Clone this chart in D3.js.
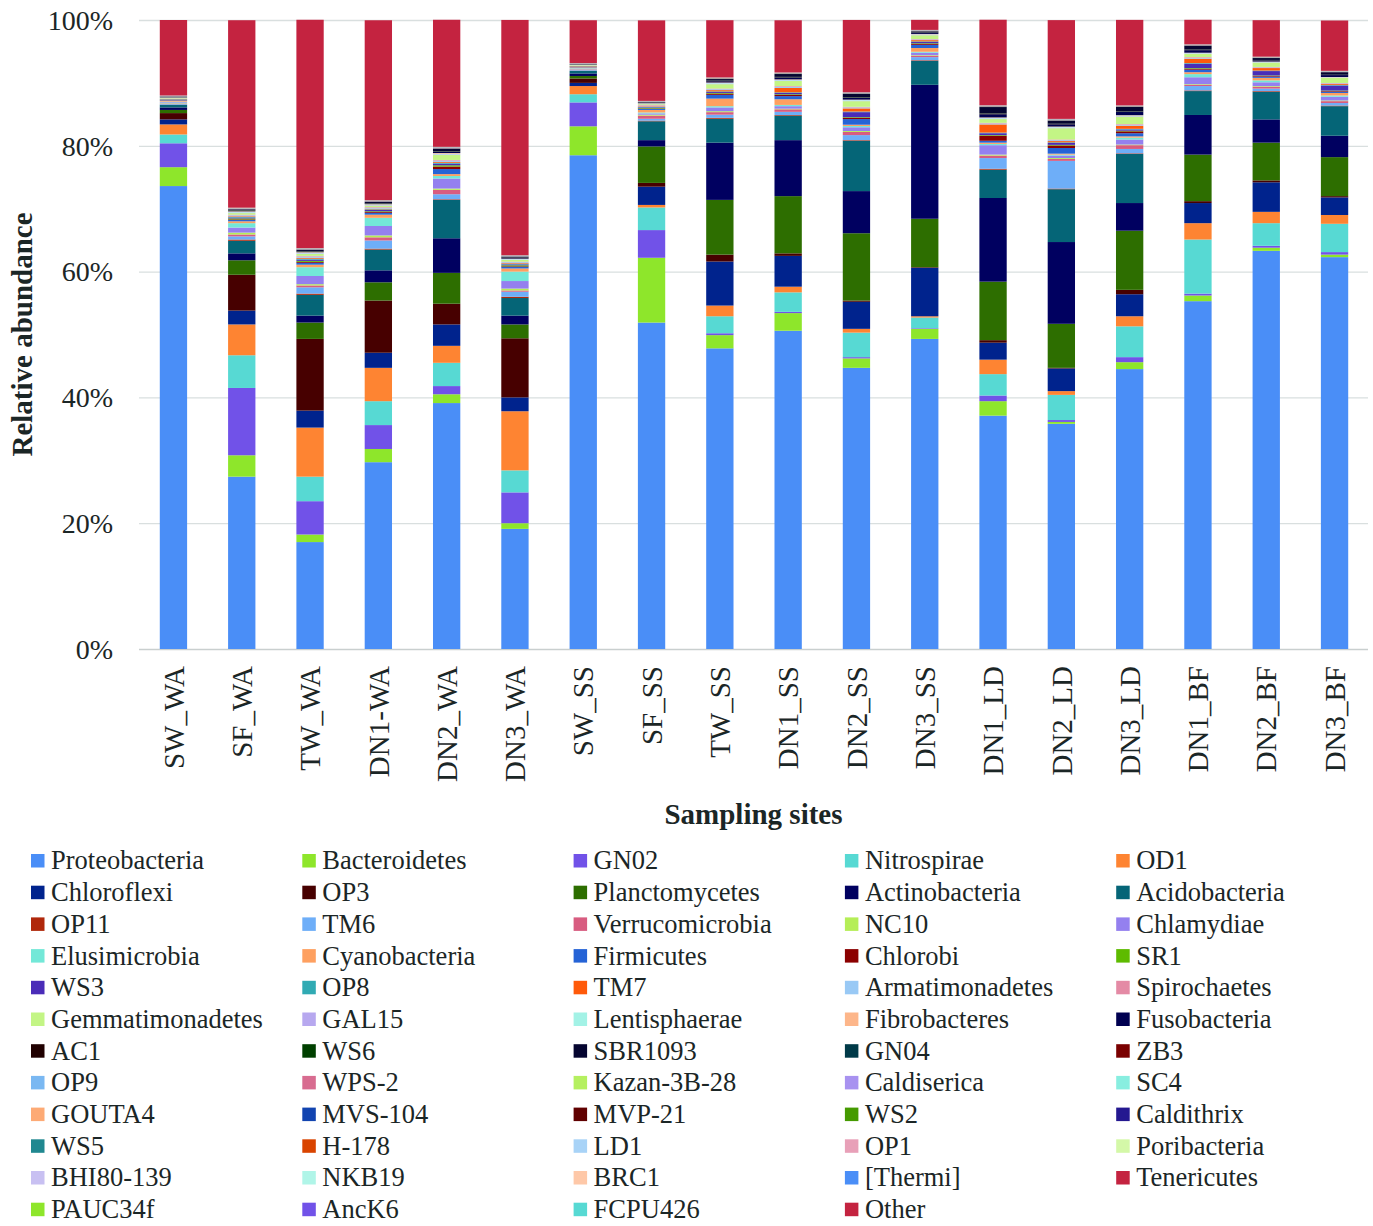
<!DOCTYPE html>
<html><head><meta charset="utf-8">
<script src="https://cdn.jsdelivr.net/npm/d3@7"></script>
<style>body{margin:0;background:#fff}svg{display:block}</style>
</head><body><div id="chart"></div>
<script>
const sites = ["SW_WA","SF_WA","TW_WA","DN1-WA","DN2_WA","DN3_WA","SW_SS","SF_SS","TW_SS","DN1_SS","DN2_SS","DN3_SS","DN1_LD","DN2_LD","DN3_LD","DN1_BF","DN2_BF","DN3_BF"];
const yTicks = [0,20,40,60,80,100];
const yTickLabels = ["0%","20%","40%","60%","80%","100%"];

const seriesNames = ["Proteobacteria","Bacteroidetes","GN02","Nitrospirae","OD1","Chloroflexi","OP3","Planctomycetes","Actinobacteria","Acidobacteria","OP11","TM6","Verrucomicrobia","NC10","Chlamydiae","Elusimicrobia","Cyanobacteria","Firmicutes","Chlorobi","SR1","WS3","OP8","TM7","Armatimonadetes","Spirochaetes","Gemmatimonadetes","GAL15","Lentisphaerae","Fibrobacteres","Fusobacteria","AC1","WS6","SBR1093","GN04","ZB3","OP9","WPS-2","Kazan-3B-28","Caldiserica","SC4","GOUTA4","MVS-104","MVP-21","WS2","Caldithrix","WS5","H-178","LD1","OP1","Poribacteria","BHI80-139","NKB19","BRC1","[Thermi]","Tenericutes","PAUC34f","AncK6","FCPU426","Other"];
const seriesColors = ["#4a8ef7","#8ee62b","#7152e8","#57d9d3","#fe8432","#00238d","#470000","#2d6e00","#000060","#056577","#b0280b","#6eaef8","#d85c80","#b5ee57","#9480ef","#73e8d8","#fea060","#2563d6","#8b0000","#5ebb00","#4a2cb8","#30aab3","#ff5a0a","#99c9f5","#e48aa5","#c3f585","#b7a8ef","#a3f2e6","#fdb68a","#000050","#200000","#004000","#050530","#003a48","#7a0000","#7ab8f2","#d86c90","#b5f060","#a892f0","#88eee0","#fdaa75","#1244b0","#600000","#459a00","#241890","#208890","#d94400","#a8d3f7","#e8a0b8","#d4f8a8","#c8c0f2","#b0f5e8","#fec8a8","#4a8ef7","#c42340","#8ee62b","#7152e8","#57d9d3","#c42340"];

// values in % per site (same order as sites)
const proteobacteria   = [73.6,27.4,17.0,29.7,39.1,19.1,78.5,51.9,47.8,50.6,44.7,49.3,37.1,35.8,44.5,55.3,63.3,62.3];
const bacteroidetes    = [3.0,3.4,1.2,2.1,1.4,0.9,4.6,10.3,2.1,2.8,1.5,1.6,2.3,0.3,1.1,0.9,0.5,0.4];
const gn02             = [3.8,10.7,5.3,3.8,1.3,4.9,3.8,4.4,0.3,0.2,0.2,0.1,0.9,0.3,0.8,0.3,0.3,0.4];
const nitrospirae      = [1.4,5.2,3.9,3.8,3.7,3.5,1.3,3.6,2.7,3.1,3.9,1.7,3.4,4.0,4.9,8.6,3.6,4.5];
const od1              = [1.6,4.9,7.8,5.3,2.7,9.4,1.3,0.4,1.7,0.9,0.6,0.2,2.3,0.6,1.6,2.6,1.8,1.4];
const chloroflexi      = [0.8,2.2,2.7,2.4,3.4,2.2,0.5,2.9,7.0,4.9,4.3,7.7,2.7,3.6,3.5,3.2,4.7,2.8];
const op3              = [1.0,5.7,11.4,8.3,3.3,9.4,0.7,0.6,1.1,0.4,0.2,0.1,0.4,0.1,0.7,0.3,0.3,0.2];
const planctomycetes   = [0.5,2.3,2.6,2.9,4.9,2.2,0.4,5.8,8.7,9.1,10.7,7.7,9.3,7.0,9.4,7.4,6.0,6.2];
const actinobacteria   = [0.4,1.1,1.1,1.9,5.5,1.4,0.4,1.0,9.1,8.9,6.7,21.3,13.3,13.0,4.4,6.3,3.7,3.4];
const acidobacteria    = [0.4,2.0,3.3,3.3,6.1,2.8,0.4,3.0,3.8,3.9,8.0,3.8,4.5,8.4,7.8,3.8,4.4,4.7];
const op11             = [.05,.2,.2,.15,.1,.2,.04,.1,.15,.1,.1,.1,.15,.1,.1,.1,.1,.1];
const tm6              = [.15,.5,1.0,1.3,.8,.8,.1,.3,.5,.5,.8,.5,1.7,4.4,.7,.7,.4,.4];
const verrucomicrobia  = [.05,.3,.3,.5,.7,.2,.08,.5,.4,.4,.5,.2,.4,.3,.6,.2,.3,.3];
const nc10             = [.05,.3,.2,.3,.2,.3,.04,.15,.15,.1,.15,.1,.15,.15,.1,.1,.1,.1];
const chlamydiae       = [.12,.8,1.3,1.5,1.6,1.2,.1,.2,.6,.4,.6,.4,1.5,.4,.8,1.1,.6,.6];
const elusimicrobia    = [.1,.7,1.4,1.3,.4,1.5,.08,.15,.2,.2,.2,.15,.2,.15,.3,.5,.3,.2];
const cyanobacteria    = [.15,.3,.4,.5,.3,.5,.12,.4,1.2,.9,.2,.6,.2,.15,.2,.3,.4,.4];
const firmicutes       = [.08,.2,.3,.3,.8,.25,.06,.15,.6,.5,.9,.5,.3,.9,.5,.4,.2,.2];
const chlorobi         = [.04,.1,.15,.15,.4,.1,.03,.08,.2,.2,.2,.15,.8,.4,.3,.15,.1,.1];
const sr1              = [.04,.15,.15,.1,.2,.15,.03,.08,.1,.1,.1,.1,.1,.1,.1,.1,.08,.08];
const ws3              = [.05,.15,.2,.2,.25,.15,.04,.1,.15,.2,.8,.2,.3,.3,.2,.7,.7,.8];
const op8              = [.04,.1,.15,.1,.15,.1,.03,.06,.1,.1,.1,.1,.1,.1,.1,.1,.08,.08];
const tm7              = [.04,.1,.15,.1,.15,.1,.04,.1,.2,.7,.5,.2,1.3,.2,.5,.7,.4,.15];
const armatimonadetes  = [.04,.15,.2,.15,.2,.15,.04,.1,.15,.2,.15,.1,.15,.15,.15,.15,.1,.1];
const spirochaetes     = [.03,.1,.1,.1,.1,.08,.03,.1,.1,.1,.1,.08,.1,.1,.1,.1,.08,.08];
const gemmatimonadetes = [.08,.25,.3,.25,.8,.3,.08,.15,.7,.8,.9,.6,.6,1.8,1.2,.5,.7,.8];
const gal15            = [.02,.1,.1,.08,.1,.06,.02,.05,.1,.1,.1,.08,.1,.1,.08,.08,.05,.05];
const lentisphaerae    = [.03,.1,.1,.08,.1,.06,.02,.05,.08,.08,.08,.06,.08,.08,.08,.06,.05,.05];
const fibrobacteres    = [.02,.08,.08,.06,.1,.05,.02,.05,.08,.08,.06,.05,.08,.08,.06,.06,.05,.05];
const fusobacteria     = [.04,.1,.1,.1,.2,.1,.03,.06,.2,.3,.3,.15,.5,.35,.5,.4,.2,.3];
const ac1              = [.02,.05,.05,.05,.05,.04,.02,.03,.05,.05,.05,.04,.1,.05,.05,.05,.03,.03];
const ws6              = [.02,.05,.05,.04,.05,.04,.02,.03,.05,.05,.05,.04,.05,.05,.05,.05,.03,.03];
const sbr1093          = [.04,.12,.2,.2,.4,.15,.03,.06,.25,.45,.5,.2,1.0,.5,.7,.6,.3,.4];
const gn04             = [.01,.01,.02,.01,.02,.01,.01,.01,.01,.01,.02,.01,.02,.01,.01,.01,.01,.01];
const zb3              = [.01,.02,.02,.02,.02,.01,.01,.01,.02,.02,.02,.01,.03,.02,.02,.02,.01,.01];
const op9              = [.01,.02,.02,.02,.02,.02,.01,.01,.01,.01,.01,.01,.02,.02,.01,.01,.01,.01];
const wps2             = [.01,.01,.01,.01,.02,.01,.01,.01,.01,.01,.01,.01,.01,.01,.01,.01,.01,.01];
const kazan3b28        = [.01,.01,.01,.01,.01,.01,.005,.01,.02,.02,.02,.01,.02,.02,.02,.01,.01,.01];
const caldiserica      = [.01,.02,.01,.01,.01,.01,.005,.01,.01,.01,.01,.01,.01,.01,.01,.01,.01,.01];
const sc4              = [.01,.01,.01,.01,.01,.01,.005,.01,.01,.01,.01,.01,.01,.01,.01,.01,.01,.01];
const gouta4           = [.01,.01,.01,.01,.01,.01,.01,.01,.02,.01,.01,.01,.01,.01,.01,.01,.01,.01];
const mvs104           = [.01,.01,.01,.01,.02,.01,.005,.01,.01,.01,.02,.01,.01,.02,.01,.01,.01,.01];
const mvp21            = [.01,.01,.01,.01,.01,.01,.005,.005,.01,.01,.01,.01,.01,.01,.01,.01,.01,.01];
const ws2              = [.01,.01,.01,.01,.01,.01,.005,.01,.01,.01,.01,.01,.01,.01,.01,.01,.01,.01];
const caldithrix       = [.005,.01,.01,.01,.01,.01,.005,.005,.01,.01,.01,.01,.01,.01,.01,.01,.01,.01];
const ws5              = [.01,.01,.01,.01,.01,.01,.005,.005,.01,.01,.01,.01,.01,.01,.01,.01,.01,.01];
const h178             = [.005,.01,.01,.01,.01,.01,.005,.005,.01,.01,.01,.01,.01,.01,.01,.01,.01,.01];
const ld1              = [.01,.01,.01,.01,.01,.01,.005,.01,.01,.01,.01,.01,.01,.01,.01,.01,.01,.01];
const op1              = [.005,.01,.01,.01,.01,.01,.005,.005,.01,.01,.01,.01,.01,.01,.01,.01,.005,.005];
const poribacteria     = [.005,.01,.01,.01,.01,.01,.005,.005,.01,.01,.01,.01,.01,.01,.01,.01,.01,.01];
const bhi80139         = [.005,.01,.01,.01,.01,.005,.005,.005,.005,.005,.01,.005,.01,.01,.01,.005,.005,.005];
const nkb19            = [.005,.01,.01,.01,.01,.01,.005,.005,.01,.01,.01,.01,.01,.01,.01,.01,.01,.01];
const brc1             = [.005,.01,.01,.01,.01,.005,.005,.005,.005,.005,.005,.005,.01,.005,.005,.005,.005,.005];
const thermi           = [.01,.005,.005,.005,.01,.005,.01,.01,.01,.01,.01,.01,.01,.01,.01,.01,.01,.01];
const tenericutes      = [.01,.01,.01,.01,.01,.01,.01,.01,.01,.01,.01,.01,.01,.01,.01,.01,.01,.01];
const pauc34f          = [.005,.01,.005,.005,.01,.005,.005,.005,.005,.005,.005,.005,.005,.005,.005,.005,.005,.005];
const anck6            = [.005,.005,.005,.005,.005,.005,.005,.005,.005,.005,.005,.005,.005,.005,.005,.005,.005,.005];
const fcpu426          = [.005,.005,.005,.005,.005,.005,.005,.005,.005,.005,.005,.005,.005,.005,.005,.005,.005,.005];
const other            = [12.0,29.8,36.3,28.6,20.2,37.4,6.8,12.8,9.1,8.3,11.5,1.6,13.6,15.7,13.6,3.9,5.8,8.0];

const seriesValues = [proteobacteria,bacteroidetes,gn02,nitrospirae,od1,chloroflexi,op3,planctomycetes,actinobacteria,acidobacteria,op11,tm6,verrucomicrobia,nc10,chlamydiae,elusimicrobia,cyanobacteria,firmicutes,chlorobi,sr1,ws3,op8,tm7,armatimonadetes,spirochaetes,gemmatimonadetes,gal15,lentisphaerae,fibrobacteres,fusobacteria,ac1,ws6,sbr1093,gn04,zb3,op9,wps2,kazan3b28,caldiserica,sc4,gouta4,mvs104,mvp21,ws2,caldithrix,ws5,h178,ld1,op1,poribacteria,bhi80139,nkb19,brc1,thermi,tenericutes,pauc34f,anck6,fcpu426,other];

const table = sites.map((s,i)=>{const r={site:s};seriesNames.forEach((n,k)=>r[n]=seriesValues[k][i]);return r;});

const W=1373,H=1226;
const FONT='"Liberation Serif","Times New Roman",Times,serif';
const TXT='#1b2626';
const svg=d3.select('#chart').append('svg').attr('width',W).attr('height',H).style('background','#fff');

const x=d3.scaleBand().domain(sites).range([139.3,1368.7]).paddingInner(0.6).paddingOuter(0.3);
const y=d3.scaleLinear().domain([0,100]).range([649,20]);
const color=d3.scaleOrdinal().domain(seriesNames).range(seriesColors);

// gridlines
svg.append('g').selectAll('line').data(yTicks).join('line')
  .attr('x1',139).attr('x2',1368).attr('y1',d=>y(d)+0.5).attr('y2',d=>y(d)+0.5)
  .attr('stroke',d=>d===0?'#c9cfcf':'#d9dfdf').attr('stroke-width',1.3);

// y tick labels
svg.append('g').selectAll('text').data(yTicks).join('text')
  .attr('x',113).attr('y',d=>y(d)).attr('dy','0.35em').attr('text-anchor','end')
  .attr('font-family',FONT).attr('font-size',28).attr('fill',TXT)
  .text((d,i)=>yTickLabels[i]);

// stacked bars
const stack=d3.stack().keys(seriesNames)(table);
svg.append('g').selectAll('g').data(stack).join('g').attr('fill',d=>color(d.key))
  .selectAll('rect').data(d=>d).join('rect')
  .attr('x',d=>x(d.data.site)).attr('width',x.bandwidth())
  .attr('y',d=>y(d[1])).attr('height',d=>Math.max(0,y(d[0])-y(d[1])));

// category labels
svg.append('g').selectAll('text').data(sites).join('text')
  .attr('transform',d=>`translate(${x(d)+x.bandwidth()/2},666) rotate(-90)`)
  .attr('dy','0.35em').attr('text-anchor','end')
  .attr('font-family',FONT).attr('font-size',29).attr('fill',TXT).text(d=>d);

// axis titles
svg.append('text').attr('transform','translate(22,334.5) rotate(-90)').attr('dy','0.35em')
  .attr('text-anchor','middle').attr('font-family',FONT).attr('font-size',29).attr('font-weight','bold')
  .attr('fill',TXT).text('Relative abundance');
svg.append('text').attr('x',753.5).attr('y',814).attr('dy','0.35em').attr('text-anchor','middle')
  .attr('font-family',FONT).attr('font-size',29).attr('font-weight','bold').attr('fill',TXT).text('Sampling sites');

// legend
const leg=svg.append('g').selectAll('g').data(seriesNames).join('g')
  .attr('transform',(d,i)=>`translate(${31+(i%5)*271.3},${861+Math.floor(i/5)*31.7})`);
leg.append('rect').attr('x',0).attr('y',-7).attr('width',13.5).attr('height',13.5).attr('fill',d=>color(d));
leg.append('text').attr('x',20).attr('y',0).attr('dy','0.32em').attr('font-family',FONT)
  .attr('font-size',26.5).attr('fill',TXT).text(d=>d);
</script></body></html>
